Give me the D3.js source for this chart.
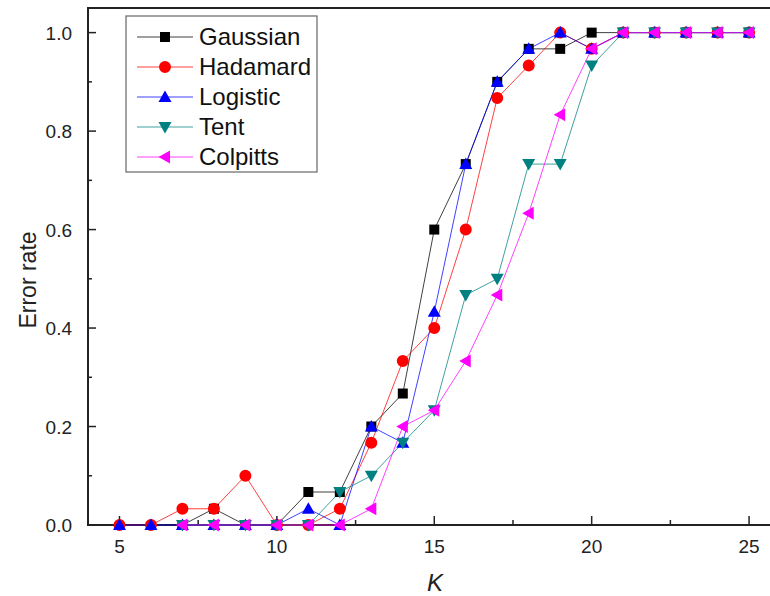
<!DOCTYPE html>
<html><head><meta charset="utf-8">
<script src="https://cdn.jsdelivr.net/npm/d3@7"></script>
<style>body{margin:0;background:#fff}svg{display:block;font-family:"Liberation Sans",Arial,sans-serif}</style>
</head><body><svg id="c" width="770" height="596"></svg>
<script>
const K = [5,6,7,8,9,10,11,12,13,14,15,16,17,18,19,20,21,22,23,24,25];
const gaussian = [null,null,0,0.033,0,0,0.067,0.067,0.2,0.267,0.6,0.733,0.9,0.967,0.967,1,1,1,1,1,1];
const hadamard = [0,0,0.033,0.033,0.1,0,0,0.033,0.167,0.333,0.4,0.6,0.867,0.933,1,0.967,1,1,1,1,1];
const logistic = [0,0,0,0,0,0,0.033,0,0.2,0.167,0.433,0.733,0.9,0.967,1,0.967,1,1,1,1,1];
const tent = [null,null,0,0,0,0,0,0.067,0.1,0.167,0.233,0.467,0.5,0.733,0.733,0.933,1,1,1,1,1];
const colpitts = [null,null,0,0,0,0,0,0,0.033,0.2,0.233,0.333,0.467,0.633,0.833,0.967,1,1,1,1,1];
const seriesNames = ["Gaussian","Hadamard","Logistic","Tent","Colpitts"];
const seriesColors = ["#000000","#ff0000","#0000ff","#008080","#ff00ff"];
const seriesShapes = ["square","circle","up","down","left"];
const xTicks = [5,10,15,20,25];
const yTicks = [0,0.2,0.4,0.6,0.8,1.0];

const svg = d3.select("#c");
const L=88, T=8, B=525, R=790;
const x = d3.scaleLinear().domain([4,26.3]).range([L,R]);
const y = d3.scaleLinear().domain([0,1.05]).range([B,T]);

// frame
svg.append("path").attr("d",`M${R},${T}H${L}V${B}H${R}`).attr("fill","none").attr("stroke","#222").attr("stroke-width",2);

// y ticks
const yAx = svg.append("g");
yTicks.forEach(v=>{
  yAx.append("line").attr("x1",L).attr("x2",L+8).attr("y1",y(v)).attr("y2",y(v)).attr("stroke","#222").attr("stroke-width",1.5);
  yAx.append("text").attr("x",72).attr("y",y(v)+7).attr("text-anchor","end").attr("font-size",19).attr("fill","#222").text(v.toFixed(1));
});
d3.range(0.1,1.05,0.2).forEach(v=>{
  yAx.append("line").attr("x1",L).attr("x2",L+4).attr("y1",y(v)).attr("y2",y(v)).attr("stroke","#222").attr("stroke-width",1.5);
});
// x ticks
xTicks.forEach(v=>{
  svg.append("line").attr("x1",x(v)).attr("x2",x(v)).attr("y1",B).attr("y2",B-9).attr("stroke","#222").attr("stroke-width",1.5);
  svg.append("text").attr("x",x(v)).attr("y",553).attr("text-anchor","middle").attr("font-size",19).attr("fill","#222").text(v);
});
[7.5,12.5,17.5,22.5].forEach(v=>{
  svg.append("line").attr("x1",x(v)).attr("x2",x(v)).attr("y1",B).attr("y2",B-5).attr("stroke","#222").attr("stroke-width",1.5);
});
svg.append("text").attr("transform",`translate(36,280) rotate(-90)`).attr("text-anchor","middle").attr("font-size",23).attr("fill","#222").text("Error rate");
svg.append("text").attr("x",435).attr("y",591).attr("text-anchor","middle").attr("font-size",24).attr("font-style","italic").attr("fill","#222").text("K");

function symbolPath(shape){
  if(shape==="square") return "M-5,-5H5V5H-5Z";
  if(shape==="circle") return d3.symbol(d3.symbolCircle,113)();
  if(shape==="up") return "M0,-6.5L6.5,5L-6.5,5Z";
  if(shape==="down") return "M0,6.5L6.5,-5L-6.5,-5Z";
  if(shape==="left") return "M-6.5,0L5,-6.5L5,6.5Z";
}
const allSeries=[gaussian,hadamard,logistic,tent,colpitts];
const g = svg.append("g");
const line = d3.line().defined(d=>d.v!==null).x(d=>x(d.k)).y(d=>y(d.v));
allSeries.forEach((vals,i)=>{
  const pts = K.map((k,j)=>({k,v:vals[j]}));
  g.append("path").datum(pts).attr("d",line).attr("fill","none").attr("stroke",seriesColors[i]).attr("stroke-width",1).attr("stroke-opacity",0.75);
});
allSeries.forEach((vals,i)=>{
  const pts = K.map((k,j)=>({k,v:vals[j]})).filter(d=>d.v!==null);
  g.selectAll(null).data(pts).enter().append("path").attr("d",symbolPath(seriesShapes[i]))
    .attr("transform",d=>`translate(${x(d.k)},${y(d.v)})`).attr("fill",seriesColors[i]);
});

// legend
const lg = svg.append("g");
lg.append("rect").attr("x",126).attr("y",16).attr("width",191).attr("height",156).attr("fill","#fff").attr("stroke","#666").attr("stroke-width",1.2);
seriesNames.forEach((n,i)=>{
  const yy = 37 + i*30;
  lg.append("line").attr("x1",137).attr("x2",193).attr("y1",yy).attr("y2",yy).attr("stroke",seriesColors[i]).attr("stroke-width",1).attr("stroke-opacity",0.75);
  lg.append("path").attr("d",symbolPath(seriesShapes[i])).attr("transform",`translate(165,${yy})`).attr("fill",seriesColors[i]);
  lg.append("text").attr("x",199).attr("y",yy+8).attr("font-size",24).attr("fill","#111").text(n);
});
</script></body></html>
